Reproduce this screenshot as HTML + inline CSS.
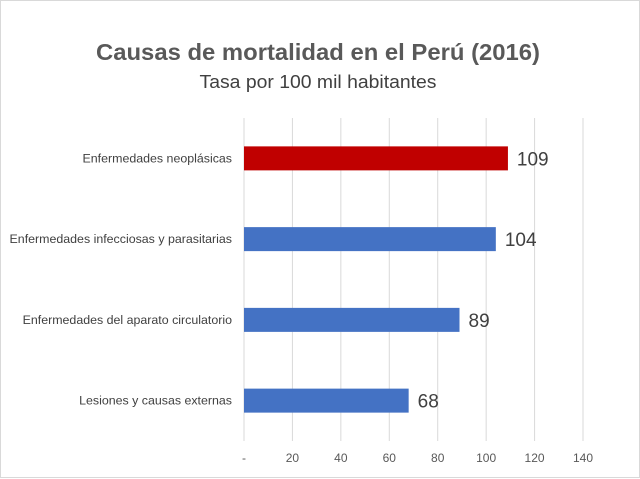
<!DOCTYPE html>
<html><head><meta charset="utf-8"><style>
body{margin:0;background:#fff;}
svg{display:block;font-family:"Liberation Sans",Calibri,sans-serif;}
</style></head><body>
<svg id="chart" width="640" height="479">
<rect x="0.5" y="0.5" width="639" height="477" fill="#fff" stroke="#d9d9d9"/>
<text x="318" y="60" text-anchor="middle" font-size="23" font-weight="bold" fill="#595959" textLength="444" lengthAdjust="spacingAndGlyphs">Causas de mortalidad en el Perú (2016)</text>
<text x="318" y="88" text-anchor="middle" font-size="18" fill="#404040" textLength="237" lengthAdjust="spacingAndGlyphs">Tasa por 100 mil habitantes</text>
<g id="grid"></g><g id="bars"></g><g id="labels"></g>
</svg>
<script>
const categories=["Enfermedades neoplásicas","Enfermedades infecciosas y parasitarias","Enfermedades del aparato circulatorio","Lesiones y causas externas"];
const values=[109,104,89,68];
const colors=["#c00000","#4472c4","#4472c4","#4472c4"];
const ticks=[0,20,40,60,80,100,120,140];
const tickLabels=["-","20","40","60","80","100","120","140"];
const NS="http://www.w3.org/2000/svg";
const x0=244,x1=583,yTop=118,yBot=441,vmax=140;
const xs=v=>x0+(v/vmax)*(x1-x0);
const band=(yBot-yTop)/categories.length;
const yc=i=>yTop+band*(i+0.5);
function mk(t,a,p){const e=document.createElementNS(NS,t);for(const k in a)e.setAttribute(k,a[k]);p.appendChild(e);return e;}
const g=document.getElementById('grid'),b=document.getElementById('bars'),l=document.getElementById('labels');
ticks.forEach((t,i)=>{
 const ln=mk('line',{x1:xs(t),x2:xs(t),y1:yTop,y2:yBot,stroke:'#d9d9d9','stroke-width':1},g);
 
 
 const tx=mk('text',{x:xs(t),y:462,'text-anchor':'middle','font-size':12,fill:'#595959'},g);
 tx.textContent=tickLabels[i];
 
 
});
categories.forEach((c,i)=>{
 const r=mk('rect',{x:x0,y:yc(i)-12,width:xs(values[i])-x0,height:24,fill:colors[i]},b);
 
 
 const v=mk('text',{x:xs(values[i])+9,y:yc(i)+7,'font-size':19,fill:'#404040'},l);
 v.textContent=values[i];
 
 
 const cl=mk('text',{x:232,y:yc(i)+4,'text-anchor':'end','font-size':12.4,fill:'#404040'},l);
 cl.textContent=c;
 
 
});
</script>
</body></html>
